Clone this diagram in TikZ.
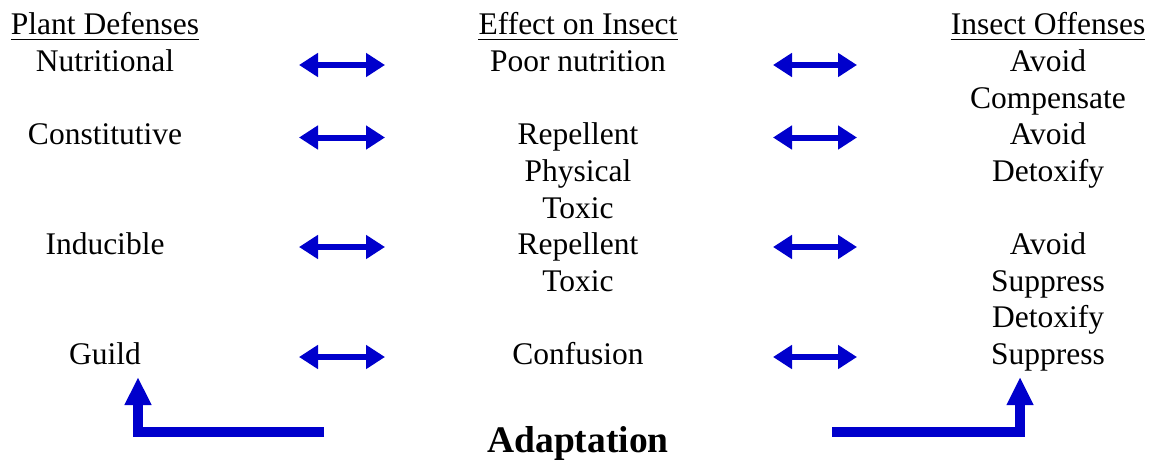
\documentclass[tikz,border=0pt]{standalone}
\usepackage{fontspec}
\setmainfont{Liberation Serif}
\usetikzlibrary{arrows.meta}
\definecolor{arrowblue}{RGB}{0,0,204}
\tikzset{
  txt/.style={anchor=base, inner sep=0pt, font=\fontsize{31.5}{36}\selectfont},
  dbl/.style={line width=6pt, draw=arrowblue, line cap=butt,
    {Triangle[width=23pt,length=19pt]}-{Triangle[width=23pt,length=19pt]}},
  uparrow/.style={line width=10pt, draw=arrowblue, line cap=butt, line join=miter,
    -{Triangle[width=25pt,length=28pt]}},
  uline/.style={line width=1.4pt}
}
\begin{document}
\begin{tikzpicture}[x=1pt,y=-1pt]
\useasboundingbox (0,0) rectangle (1150,460);
\def\L{105}\def\M{578}\def\R{1048}
% headers
\node[txt] (h1) at (\L,35) {Plant Defenses};
\node[txt] (h2) at (\M,35) {Effect on Insect};
\node[txt] (h3) at (\R,35) {Insect Offenses};
\foreach \n in {h1,h2,h3}{\draw[uline] ([yshift=-4.5pt]\n.base west) -- ([yshift=-4.5pt]\n.base east);}
% left column
\node[txt] (l1) at (\L,71.6) {Nutritional};
\node[txt] (l3) at (\L,144.8) {Constitutive};
\node[txt] (l6) at (\L,254.6) {Inducible};
\node[txt] (l9) at (\L,364.4) {Guild};
% middle column
\node[txt] (m1) at (\M,71.6) {Poor nutrition};
\node[txt] (m3) at (\M,144.8) {Repellent};
\node[txt] (m4) at (\M,181.4) {Physical};
\node[txt] (m5) at (\M,218) {Toxic};
\node[txt] (m6) at (\M,254.6) {Repellent};
\node[txt] (m7) at (\M,291.2) {Toxic};
\node[txt] (m9) at (\M,364.4) {Confusion};
% right column
\node[txt] (r1) at (\R,71.6) {Avoid};
\node[txt] (r2) at (\R,108.2) {Compensate};
\node[txt] (r3) at (\R,144.8) {Avoid};
\node[txt] (r4) at (\R,181.4) {Detoxify};
\node[txt] (r6) at (\R,254.6) {Avoid};
\node[txt] (r7) at (\R,291.2) {Suppress};
\node[txt] (r8) at (\R,327.8) {Detoxify};
\node[txt] (r9) at (\R,364.4) {Suppress};
% adaptation
\node[anchor=base, inner sep=0pt, font=\fontsize{37.5}{42}\selectfont\bfseries] (ad) at (\M,452) {Adaptation};
% double arrows
\foreach \y/\k in {65/1,137.5/3,247/6,357/9}{
  \coordinate (a\k) at (299,\y); \coordinate (b\k) at (385,\y);
  \coordinate (c\k) at (773,\y); \coordinate (d\k) at (857,\y);
  \draw[dbl] (a\k) -- (b\k);
  \draw[dbl] (c\k) -- (d\k);
}
% adaptation arrows
\coordinate (la) at (324,431.5);
\coordinate (ltip) at (138,377);
\coordinate (ra) at (832,431.5);
\coordinate (rtip) at (1020,377);
\draw[uparrow] (la) -| (ltip);
\draw[uparrow] (ra) -| (rtip);
\end{tikzpicture}
\end{document}
